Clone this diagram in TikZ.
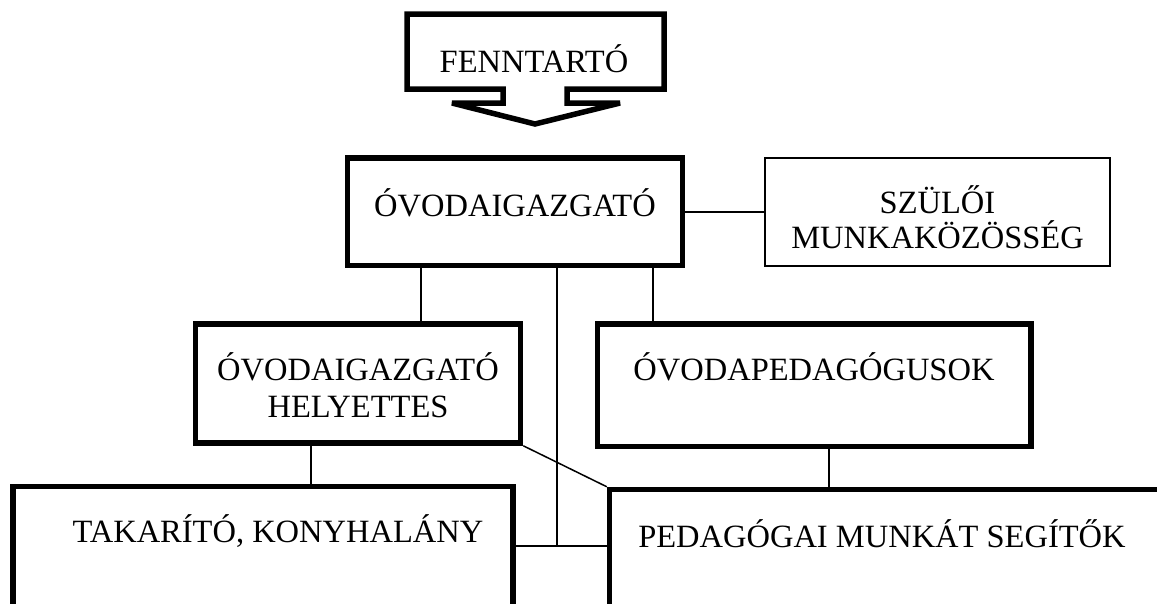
\documentclass[tikz,border=0pt]{standalone}
\usepackage{fontspec}
\setmainfont{Liberation Serif}
\begin{document}
\begin{tikzpicture}[x=1pt,y=-1pt,
  thickbox/.style={draw=black, line width=5.5pt, fill=white, inner sep=0pt, rectangle},
  thinbox/.style={draw=black, line width=1.8pt, fill=white, inner sep=0pt, rectangle},
  conn/.style={draw=black, line width=1.5pt},
  lbl/.style={font=\fontsize{32.5}{37}\selectfont, inner sep=0pt, anchor=base, align=center},
  lblmid/.style={font=\fontsize{32.5}{35}\selectfont, inner sep=0pt, anchor=base, align=center}
]
\useasboundingbox (0,0) rectangle (1157,603);
\fill[white] (0,0) rectangle (1157,603);
\clip (0,0) rectangle (1157,603);

% FENNTARTO callout arrow
\draw[line width=5.5pt, line join=miter, miter limit=4, fill=white]
  (407,14) -- (664,14) -- (664,89) -- (567,89) -- (567,103) -- (620,103)
  -- (535,124) -- (452,103) -- (503,103) -- (503,89) -- (407,89) -- cycle;
\node[lbl] (fenn) at (534,72) {FENNTARTÓ};

% boxes
\node[thickbox, minimum width=335pt, minimum height=107.5pt] (dir) at (515,211.75) {};
\node[thinbox, minimum width=345pt, minimum height=108pt] (szulo) at (937.5,211.75) {};
\node[thickbox, minimum width=325pt, minimum height=119pt] (hely) at (358,383.5) {};
\node[thickbox, minimum width=433.5pt, minimum height=122.5pt] (oped) at (814.25,385.25) {};
\node[thickbox, minimum width=500pt, minimum height=200pt] (tak) at (263,586.5) {};
\node[thickbox, minimum width=640pt, minimum height=200pt] (ped) at (929.5,589.5) {};

% texts (base anchor = baseline of the last line)
\node[lbl] (dirT) at (515,216) {ÓVODAIGAZGATÓ};
\node[lblmid] (szuloT) at (937.5,248) {SZÜLŐI\\MUNKAKÖZÖSSÉG};
\node[lbl] (helyT) at (358,417) {ÓVODAIGAZGATÓ\\HELYETTES};
\node[lbl] (opedT) at (814,380) {ÓVODAPEDAGÓGUSOK};
\node[lbl] (takT) at (278,542) {TAKARÍTÓ, KONYHALÁNY};
\node[lbl] (pedT) at (882,547) {PEDAGÓGAI MUNKÁT SEGÍTŐK};

% connectors
\coordinate (j) at (557,546);
\draw[conn] (dir.east) -- (szulo.west);
\draw[conn] (dir.south -| 421,0) -- (hely.north -| 421,0);
\draw[conn] (dir.south -| 653,0) -- (oped.north -| 653,0);
\draw[conn] (dir.south -| j) -- (j);
\draw[conn] (tak.north east |- j) -- (ped.north west |- j);
\draw[conn] (hely.south -| 311,0) -- (tak.north -| 311,0);
\draw[conn] (oped.south -| 829,0) -- (ped.north -| 829,0);
\draw[conn] (hely.south east) -- (ped.north west);
\end{tikzpicture}
\end{document}
